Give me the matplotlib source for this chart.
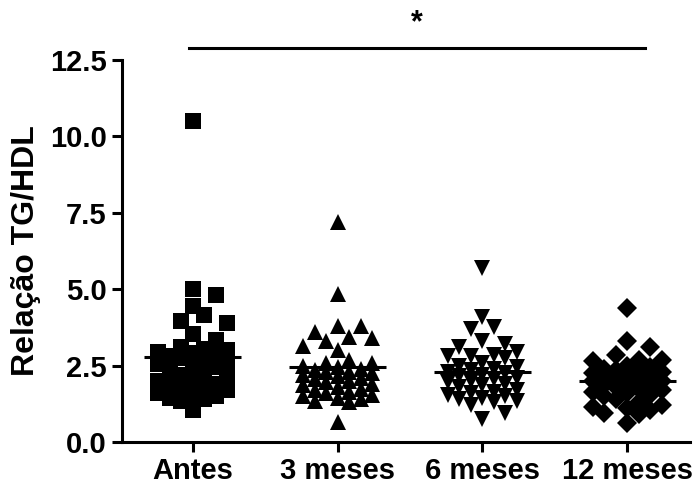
import numpy as np
import matplotlib
matplotlib.use('Agg')
import matplotlib.pyplot as plt

plt.rcParams['font.family'] = ['Liberation Sans', 'DejaVu Sans']
plt.rcParams['font.weight'] = 'bold'

groups = ['Antes', '3 meses', '6 meses', '12 meses']

antes = [10.5, 5.0, 4.8, 4.45, 4.15, 3.95, 3.9, 3.55, 3.35, 3.05, 3.0,
         3.1, 2.95, 2.9, 2.85, 2.8, 2.75, 2.7, 2.6, 2.55, 2.5, 2.45, 2.4,
         2.3, 2.2, 2.1, 2.0, 1.95, 1.9, 1.85, 1.8, 1.75, 1.7, 1.6, 1.55,
         1.5, 1.45, 1.4, 1.35, 1.05]
tres_meses = [7.2, 4.85, 3.8, 3.8, 3.6, 3.45, 3.4, 3.3, 3.15, 3.0, 2.7, 2.6,
              2.6, 2.5, 2.45, 2.4, 2.35, 2.3, 2.3, 2.25, 2.2, 2.15, 2.1, 2.05,
              2.0, 1.95, 1.9, 1.85, 1.8, 1.75, 1.7, 1.65, 1.6, 1.55, 1.5,
              1.45, 1.4, 1.35, 1.3, 0.65]
seis_meses = [5.7, 4.1, 3.75, 3.7, 3.3, 3.2, 3.1, 2.95, 2.85, 2.8, 2.8, 2.75,
              2.6, 2.5, 2.45, 2.4, 2.35, 2.3, 2.25, 2.2, 2.15, 2.1, 2.05, 2.0,
              1.95, 1.9, 1.85, 1.8, 1.7, 1.65, 1.6, 1.55, 1.5, 1.45, 1.4,
              1.35, 1.3, 1.2, 0.95, 0.75]
doze_meses = [4.4, 3.3, 3.1, 2.85, 2.7, 2.7, 2.65, 2.5, 2.45, 2.4,
              2.35, 2.3, 2.3, 2.25, 2.2, 2.2, 2.15, 2.1, 2.05, 2.0, 2.0, 1.95,
              1.9, 1.85, 1.8, 1.75, 1.7, 1.65, 1.6, 1.55, 1.5, 1.4, 1.3,
              1.2, 1.15, 1.1, 1.05, 0.95, 0.9, 0.62]

series = [antes, tres_meses, seis_meses, doze_meses]
markers = ['s', '^', 'v', 'D']
msizes = [12, 12, 12, 10]

yticks = [0.0, 2.5, 5.0, 7.5, 10.0, 12.5]


def swarm_x(ax, xc, values, step_px=11.5, min_px=14.0, max_k=3):
    # spread points sideways in pixel space, GraphPad style
    vals = np.asarray(values, dtype=float)
    order = np.argsort(-vals)
    pix = ax.transData.transform(np.column_stack([np.full(len(vals), xc), vals]))
    placed = []
    xs = np.zeros(len(vals))
    cands = [0]
    for k in range(1, max_k + 1):
        cands += [k, -k]
    for i in order:
        px0, py = pix[i]
        best, best_d = None, -1
        for k in cands:
            px = px0 + k * step_px
            if placed:
                d = min(np.hypot(px - qx, py - qy) for qx, qy in placed)
            else:
                d = 1e9
            if d >= min_px:
                best = px
                break
            if d > best_d:
                best, best_d = px, d
        placed.append((best, py))
        xs[i] = ax.transData.inverted().transform((best, py))[0]
    return xs


fig = plt.figure(figsize=(6.93, 4.84), dpi=100)
ax = fig.add_axes([0.176, 0.0868, 0.82, 0.789])
ax.set_xlim(-0.49, 3.435)
ax.set_ylim(0, 12.5)

for i, vals in enumerate(series):
    xs = swarm_x(ax, i, vals)
    ax.plot(xs, vals, linestyle='none', marker=markers[i], ms=msizes[i],
            color='black', markeredgewidth=0, clip_on=False, zorder=3)
    m = np.mean(vals)
    ax.hlines(m, i - 0.335, i + 0.335, color='black', lw=2.2, zorder=4)

for side in ['top', 'right']:
    ax.spines[side].set_visible(False)
for side in ['left', 'bottom']:
    ax.spines[side].set_linewidth(2.2)

ax.set_yticks(yticks)
ax.set_yticklabels([f'{t:.1f}' for t in yticks])
ax.set_xticks(range(len(groups)))
ax.set_xticklabels(groups)
ax.tick_params(axis='both', labelsize=21, width=2.2, length=7, pad=4)
for lab in ax.get_xticklabels() + ax.get_yticklabels():
    lab.set_fontweight('bold')
ax.set_ylabel('Relação TG/HDL', fontsize=23, fontweight='bold', labelpad=6)

# significance bar
ax.plot([-0.03, 3.12], [12.9, 12.9], color='black', lw=2.2, clip_on=False)
ax.text(1.545, 13.2, '*', ha='center', va='bottom', fontsize=22,
        fontweight='bold', clip_on=False)

fig.savefig('out.png', dpi=100)
